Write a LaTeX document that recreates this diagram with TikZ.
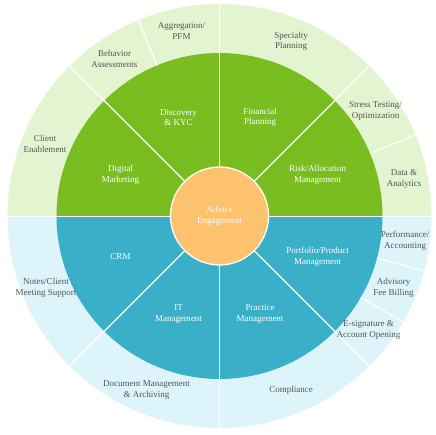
\documentclass[tikz,border=0pt]{standalone}
\usepackage{fontspec}
\setmainfont{Liberation Serif}
\definecolor{lgreen}{HTML}{E3F5D0}
\definecolor{dgreen}{HTML}{79BD21}
\definecolor{lblue}{HTML}{DDF4FA}
\definecolor{dblue}{HTML}{3AAFC8}
\definecolor{orangec}{HTML}{FCC26D}
\definecolor{textgray}{HTML}{555555}
\begin{document}
\begin{tikzpicture}[x=1pt,y=1pt,
  outerlbl/.style={align=center,font=\fontsize{9}{10.5}\selectfont,text=textgray,inner sep=0pt},
  innerlbl/.style={align=center,font=\fontsize{9}{10.5}\selectfont,text=white,inner sep=0pt},
  divider/.style={draw=white,line width=1.3pt},
  thindiv/.style={draw=white,line width=0.8pt}]
\useasboundingbox (-219.5,-219) rectangle (215.5,216);
% outer ring halves
\fill[lgreen] (0,0) -- (212,0) arc[start angle=0,end angle=180,radius=212] -- cycle;
\fill[lblue] (0,0) -- (-212,0) arc[start angle=180,end angle=360,radius=212] -- cycle;
% middle ring halves
\fill[dgreen] (0,0) -- (163,0) arc[start angle=0,end angle=180,radius=163] -- cycle;
\fill[dblue] (0,0) -- (-163,0) arc[start angle=180,end angle=360,radius=163] -- cycle;
% dividers
\foreach \a in {45,90,135,225,270,315}
  \draw[divider] (\a:49) -- (\a:212);
\foreach \a in {22.5,112.5,-15,-30}
  \draw[divider] (\a:163) -- (\a:212);
\draw[thindiv] (-212,0) -- (212,0);
% center
\node[circle,fill=orangec,draw=white,line width=1.3pt,minimum size=98pt,inner sep=0pt] (core) at (0,0) {};
\node[innerlbl] (corelbl) at (0,0) {Advice\\Engagement};
% middle labels
\node[innerlbl] (dm) at (-99,41) {Digital\\Marketing};
\node[innerlbl] (dk) at (-41,98.5) {Discovery\\\& KYC};
\node[innerlbl] (fp) at (40.5,98.5) {Financial\\Planning};
\node[innerlbl] (ra) at (98,41) {Risk/Allocation\\Management};
\node[innerlbl] (pp) at (98,-40.7) {Portfolio/Product\\Management};
\node[innerlbl] (pm) at (40.5,-98) {Practice\\Management};
\node[innerlbl] (it) at (-41,-98) {IT\\Management};
\node[innerlbl] (crm) at (-99,-40.7) {CRM};
% outer labels
\node[outerlbl] (ce) at (-174.5,72) {Client\\Enablement};
\node[outerlbl] (ba) at (-105,157) {Behavior\\Assessments};
\node[outerlbl] (ag) at (-38,185) {Aggregation/\\PFM};
\node[outerlbl] (sp) at (71.5,174.5) {Specialty\\Planning};
\node[outerlbl] (st) at (156,105) {Stress Testing/\\Optimization};
\node[outerlbl] (da) at (184.5,37) {Data \&\\Analytics};
\node[outerlbl] (pa) at (185.5,-24.7) {Performance/\\Accounting};
\node[outerlbl] (af) at (174,-72) {Advisory\\Fee Billing};
\node[outerlbl] (es) at (149,-114) {E-signature \&\\Account Opening};
\node[outerlbl] (co) at (71.5,-174) {Compliance};
\node[outerlbl] (dma) at (-73,-174) {Document Management\\\& Archiving};
\node[outerlbl] (nc) at (-173.5,-72) {Notes/Client\\Meeting Support};
\end{tikzpicture}
\end{document}
